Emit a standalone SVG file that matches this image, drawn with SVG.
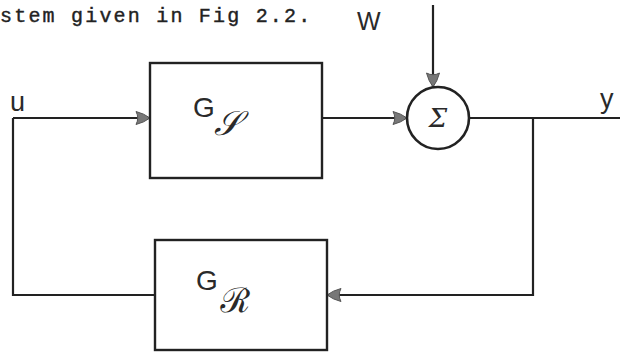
<svg xmlns="http://www.w3.org/2000/svg" width="620" height="352" viewBox="0 0 620 352">
<style>
.ln{fill:none;stroke:#222;stroke-width:2.2}
.bx{fill:#fff;stroke:#222;stroke-width:2.4}
.lbl{font-family:"Liberation Sans","DejaVu Sans",sans-serif;fill:#2a2a2a}
.scr{font-family:"DejaVu Serif","Noto Sans","DejaVu Sans",serif;font-style:italic;fill:#2a2a2a}
.mono{font-family:"Liberation Mono","DejaVu Sans Mono",monospace;fill:#222;stroke:#222;stroke-width:0.4}
</style>
<defs>
<marker id="ah" markerWidth="18" markerHeight="16" refX="15" refY="8" orient="auto" markerUnits="userSpaceOnUse">
<path d="M1,1.5 Q9,3.5 15,8 Q9,12.5 1,14.5 Q4.5,8 1,1.5Z" fill="#777" stroke="#555" stroke-width="1"/>
</marker>
</defs>
<rect width="620" height="352" fill="#fff"/>
<text class="mono" x="0" y="22" font-size="20" letter-spacing="2.2">stem given in Fig 2.2.</text>
<g id="connectors">
<path class="ln" d="M13,118 H150" marker-end="url(#ah)"/>
<path class="ln" d="M322,118 H407" marker-end="url(#ah)"/>
<path class="ln" d="M433,5 V87" marker-end="url(#ah)"/>
<path class="ln" d="M469,118 H620"/>
<path class="ln" d="M533,118 V295 H327" marker-end="url(#ah)"/>
<path class="ln" d="M155,295 H13 V118"/>
</g>
<g id="label-u"><text class="lbl" x="10" y="111" font-size="27">u</text></g>
<g id="label-w"><text class="lbl" x="357" y="30" font-size="25">W</text></g>
<g id="label-y"><text class="lbl" x="600" y="108" font-size="27">y</text></g>
<g id="Gs">
<rect class="bx" x="150" y="63" width="172" height="115"/>
<text class="lbl" x="193" y="117" font-size="28">G</text>
<text class="scr" x="214" y="135" font-size="34">𝒮</text>
</g>
<g id="sum">
<circle cx="438" cy="118" r="31" fill="#fff" stroke="#222" stroke-width="2.6"/>
<text class="scr" x="438" y="127" font-size="26" font-style="normal" text-anchor="middle">Σ</text>
</g>
<g id="Gr">
<rect class="bx" x="155" y="240" width="172" height="110"/>
<text class="lbl" x="196" y="290" font-size="28">G</text>
<text class="scr" x="220" y="312" font-size="34">ℛ</text>
</g>
</svg>
